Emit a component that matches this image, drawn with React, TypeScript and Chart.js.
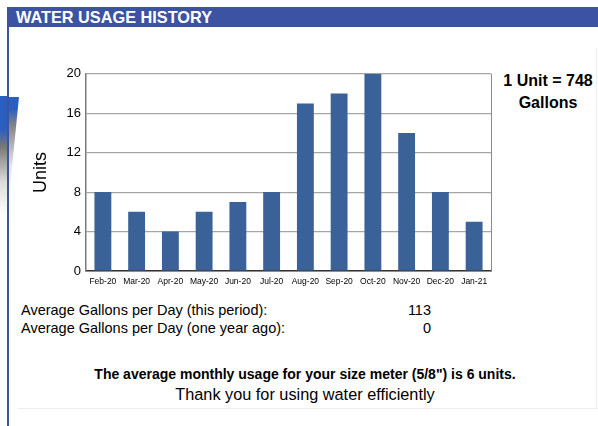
import React, { useEffect, useRef } from "react";
import { Chart, registerables } from "chart.js";

Chart.register(...registerables);

const months = ["Feb-20", "Mar-20", "Apr-20", "May-20", "Jun-20", "Jul-20", "Aug-20", "Sep-20", "Oct-20", "Nov-20", "Dec-20", "Jan-21"];
const units = [8, 6, 4, 6, 7, 8, 17, 18, 20, 14, 8, 5];
const yTicks = [0, 4, 8, 12, 16, 20];

const FONT = "'Liberation Sans', Arial, sans-serif";

const borderPlugin = {
  id: "plotBorder",
  afterDraw(chart: any) {
    const { ctx, chartArea } = chart;
    ctx.save();
    ctx.strokeStyle = "#8a8a8a";
    ctx.lineWidth = 1;
    ctx.beginPath();
    ctx.moveTo(Math.round(chartArea.right) + 0.5, chartArea.top);
    ctx.lineTo(Math.round(chartArea.right) + 0.5, chartArea.bottom);
    ctx.stroke();
    ctx.restore();
  },
};

export default function App() {
  const ref = useRef<HTMLCanvasElement | null>(null);
  useEffect(() => {
    document.body.style.margin = "0";
    const chart = new Chart(ref.current as HTMLCanvasElement, {
      type: "bar",
      data: {
        labels: months,
        datasets: [
          {
            data: units,
            backgroundColor: "#3a6298",
            categoryPercentage: 0.5,
            barPercentage: 1,
          },
        ],
      },
      options: {
        animation: false,
        responsive: false,
        maintainAspectRatio: false,
        layout: { padding: { top: 10, right: 5, left: 0, bottom: 0 } },
        plugins: { legend: { display: false }, tooltip: { enabled: false } },
        scales: {
          x: {
            grid: { display: false, drawTicks: false },
            border: { color: "#333", width: 1.5 },
            ticks: { color: "#000", font: { family: FONT, size: 8.5 }, maxRotation: 0, autoSkip: false, padding: 6 },
            afterFit(scale: any) {
              scale.height = 24;
            },
          },
          y: {
            min: 0,
            max: 20,
            afterBuildTicks(scale: any) {
              scale.ticks = yTicks.map((v) => ({ value: v }));
            },
            grid: { color: "#a6a6a6", drawTicks: false, lineWidth: 1.2 },
            border: { color: "#7a7a7a", width: 1.5 },
            ticks: { color: "#000", font: { family: FONT, size: 13 }, padding: 5 },
            title: { display: true, text: "Units", color: "#000", font: { family: FONT, size: 18 }, padding: { top: 0, bottom: 0 } },
            afterFit(scale: any) {
              scale.width = 56;
            },
          },
        },
      },
      plugins: [borderPlugin],
    });
    return () => chart.destroy();
  }, []);

  const txt: React.CSSProperties = { position: "absolute", fontFamily: FONT, color: "#000", whiteSpace: "nowrap" };

  return (
    <div style={{ position: "relative", width: 598, height: 426, background: "#fff", overflow: "hidden" }}>
      {/* header */}
      <div style={{ position: "absolute", left: 7, top: 7, width: 591, height: 20, background: "#3c53a3" }} />
      <div style={{ ...txt, left: 16, top: 8, color: "#fff", fontWeight: "bold", fontSize: 16.3, lineHeight: "19px" }}>WATER USAGE HISTORY</div>
      {/* left border line */}
      <div style={{ position: "absolute", left: 7, top: 7, width: 2, height: 419, background: "#3c53a3" }} />
      {/* left decoration */}
      <div
        style={{
          position: "absolute",
          left: 0,
          top: 96,
          width: 7,
          height: 120,
          background: "linear-gradient(180deg, #2a5fc0 0%, #2a5fc0 28%, #777 42%, #ddd 72%, #fff 100%)",
        }}
      />
      <div
        style={{
          position: "absolute",
          left: 9,
          top: 97,
          width: 10,
          height: 100,
          background: "linear-gradient(180deg, #2a5fc0 0%, #2a5fc0 12%, #888 30%, #e8e8e8 70%, #fff 100%)",
          clipPath: "polygon(0 0, 100% 0, 0 100%)",
        }}
      />
      {/* faint frame */}
      <div style={{ position: "absolute", left: 596, top: 48, width: 1, height: 360, background: "#eeeeee" }} />
      <div style={{ position: "absolute", left: 18, top: 408, width: 580, height: 1, background: "#eeeeee" }} />
      {/* chart */}
      <canvas ref={ref} width={466} height={234} style={{ position: "absolute", left: 30, top: 61, width: 466, height: 234 }} />
      {/* unit note */}
      <div style={{ ...txt, left: 498, width: 100, top: 70, textAlign: "center", fontWeight: "bold", fontSize: 16, lineHeight: "22px" }}>
        1 Unit = 748
        <br />
        Gallons
      </div>
      {/* averages */}
      <div style={{ ...txt, left: 21, top: 301, fontSize: 14.5, lineHeight: "18px" }}>Average Gallons per Day (this period):</div>
      <div style={{ ...txt, left: 380, width: 51, top: 301, fontSize: 14.5, lineHeight: "18px", textAlign: "right" }}>113</div>
      <div style={{ ...txt, left: 21, top: 319, fontSize: 14.5, lineHeight: "18px" }}>Average Gallons per Day (one year ago):</div>
      <div style={{ ...txt, left: 380, width: 51, top: 319, fontSize: 14.5, lineHeight: "18px", textAlign: "right" }}>0</div>
      {/* footer */}
      <div style={{ ...txt, left: 6, width: 598, top: 366, textAlign: "center", fontWeight: "bold", fontSize: 14, lineHeight: "17px" }}>
        The average monthly usage for your size meter (5/8") is 6 units.
      </div>
      <div style={{ ...txt, left: 6, width: 598, top: 385, textAlign: "center", fontSize: 16.3, lineHeight: "19px" }}>
        Thank you for using water efficiently
      </div>
    </div>
  );
}
